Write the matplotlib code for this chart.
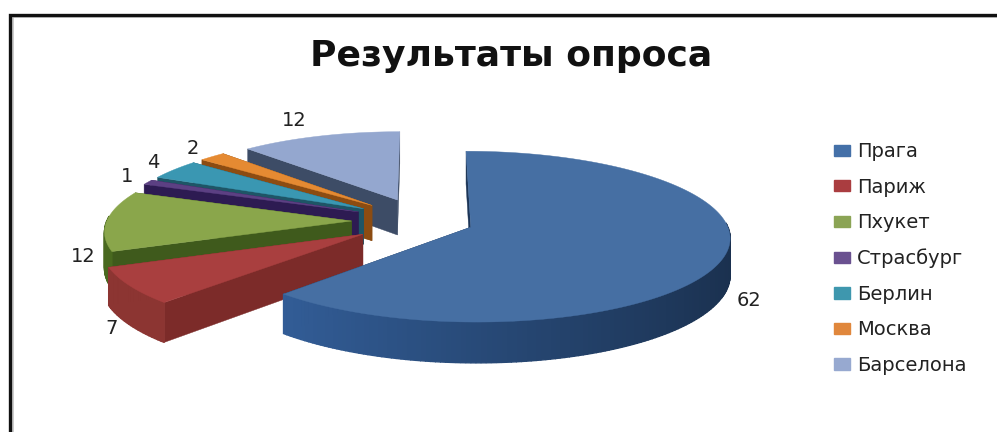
import numpy as np
import matplotlib
matplotlib.use("Agg")
import matplotlib.pyplot as plt
from matplotlib.patches import Patch, Polygon

TITLE = "Результаты опроса"
cities = ["Прага", "Париж", "Пхукет", "Страсбург", "Берлин", "Москва", "Барселона"]
votes = [62, 7, 12, 1, 4, 2, 12]
explode = [0.20, 0.28, 0.28, 0.28, 0.28, 0.28, 0.28]
radius = [1.0, 1.0, 0.96, 0.96, 0.96, 0.96, 0.96]

top_colors = ["#466fa3", "#a93f3f", "#8aa64b", "#5c4083", "#3a97b2", "#e58a32", "#94a7cf"]
cut_colors = ["#1c3557", "#7c2b29", "#3f5a1c", "#2d1b52", "#1e5566", "#8c4c12", "#3d4c66"]
rim_colors = ["#284a78", "#702a28", "#3a5419", "#2d1b52", "#1e5566", "#8c4c12", "#3d4c66"]
legend_colors = ["#4470a8", "#aa3d40", "#8ba455", "#6a5190", "#3e97ae", "#e0873c", "#97a9d0"]
label_xy = [(749, 301), (112, 329), (83, 256), (127, 177), (153, 162), (193, 148), (294, 121)]

# projection of the tilted pie, in pixels
CX, CY = 423, 221
RX, RY = 255, 83
PERSP = 0.11
DEPTH = 36


def project(u, v, z=0.0):
    s = 1 + PERSP * v
    return CX + RX * u / s, CY - RY * v / s + DEPTH * z / s


def shade(color, f):
    rgb = np.array(matplotlib.colors.to_rgb(color))
    return tuple(np.clip(rgb * f, 0, 1))


def draw_slice(ax, start, end, expl, rad, top, cut, rim, order):
    mid = np.radians((start + end) / 2)
    ou, ov = expl * np.sin(mid), expl * np.cos(mid)
    th = np.radians(np.linspace(start, end, max(int(end - start), 3) + 1))
    u = ou + rad * np.sin(th)
    v = ov + rad * np.cos(th)

    # flat cut faces first, then the rim, then the top on top of them
    for i in (0, -1):
        pts = [project(ou, ov), project(u[i], v[i]), project(u[i], v[i], 1), project(ou, ov, 1)]
        ax.add_patch(Polygon(pts, fc=cut, ec=cut, lw=0.3, zorder=order))
    for i in range(len(th) - 1):
        if np.cos(th[i]) > 0.05 and np.cos(th[i + 1]) > 0.05:
            continue
        # rim gets lighter towards the left
        f = np.interp(np.sin((th[i] + th[i + 1]) / 2), [-1, -0.68, 0, 1], [1.25, 1.25, 1.0, 0.65])
        c = shade(rim, f)
        pts = [project(u[i], v[i]), project(u[i + 1], v[i + 1]),
               project(u[i + 1], v[i + 1], 1), project(u[i], v[i], 1)]
        ax.add_patch(Polygon(pts, fc=c, ec=c, lw=1.0, zorder=order + 0.1))
    outline = [project(ou, ov)] + [project(a, b) for a, b in zip(u, v)]
    ax.add_patch(Polygon(outline, fc=top, ec=top, lw=0.3, zorder=order + 0.2))


def main():
    fig = plt.figure(figsize=(9.97, 4.32), dpi=100)
    ax = fig.add_axes([0, 0, 1, 1])
    ax.set_xlim(0, 997)
    ax.set_ylim(432, 0)
    ax.axis("off")

    # frame is only drawn on the top and left sides
    ax.plot([13, 13, 997], [432, 17, 17], color="#c4c4c4", lw=1.2, solid_joinstyle="miter")
    ax.plot([9.5, 9.5, 997], [432, 14.5, 14.5], color="#111111", lw=2.4, solid_joinstyle="miter")

    ends = np.cumsum(votes) * 360.0 / sum(votes)
    starts = np.concatenate([[0], ends[:-1]])
    # back slices first so the front ones cover them
    for order, i in enumerate([6, 5, 4, 3, 2, 1, 0]):
        draw_slice(ax, starts[i], ends[i], explode[i], radius[i],
                   top_colors[i], cut_colors[i], rim_colors[i], 2 + order)

    for val, (x, y) in zip(votes, label_xy):
        ax.text(x, y, str(val), ha="center", va="center", fontsize=14, color="#222222", zorder=20)

    ax.text(511, 56, TITLE, ha="center", va="center", fontsize=26, fontweight="bold", color="#111111")

    handles = [Patch(fc=c, ec=c) for c in legend_colors]
    ax.legend(handles, cities, loc="upper left", bbox_to_anchor=(0.8365, 0.671), frameon=False,
              fontsize=14, labelspacing=0.85, handlelength=0.82, handleheight=0.51,
              handletextpad=0.36, borderpad=0, borderaxespad=0, labelcolor="#222222")

    fig.savefig("out.png", dpi=100)
    plt.close(fig)


if __name__ == "__main__":
    main()
